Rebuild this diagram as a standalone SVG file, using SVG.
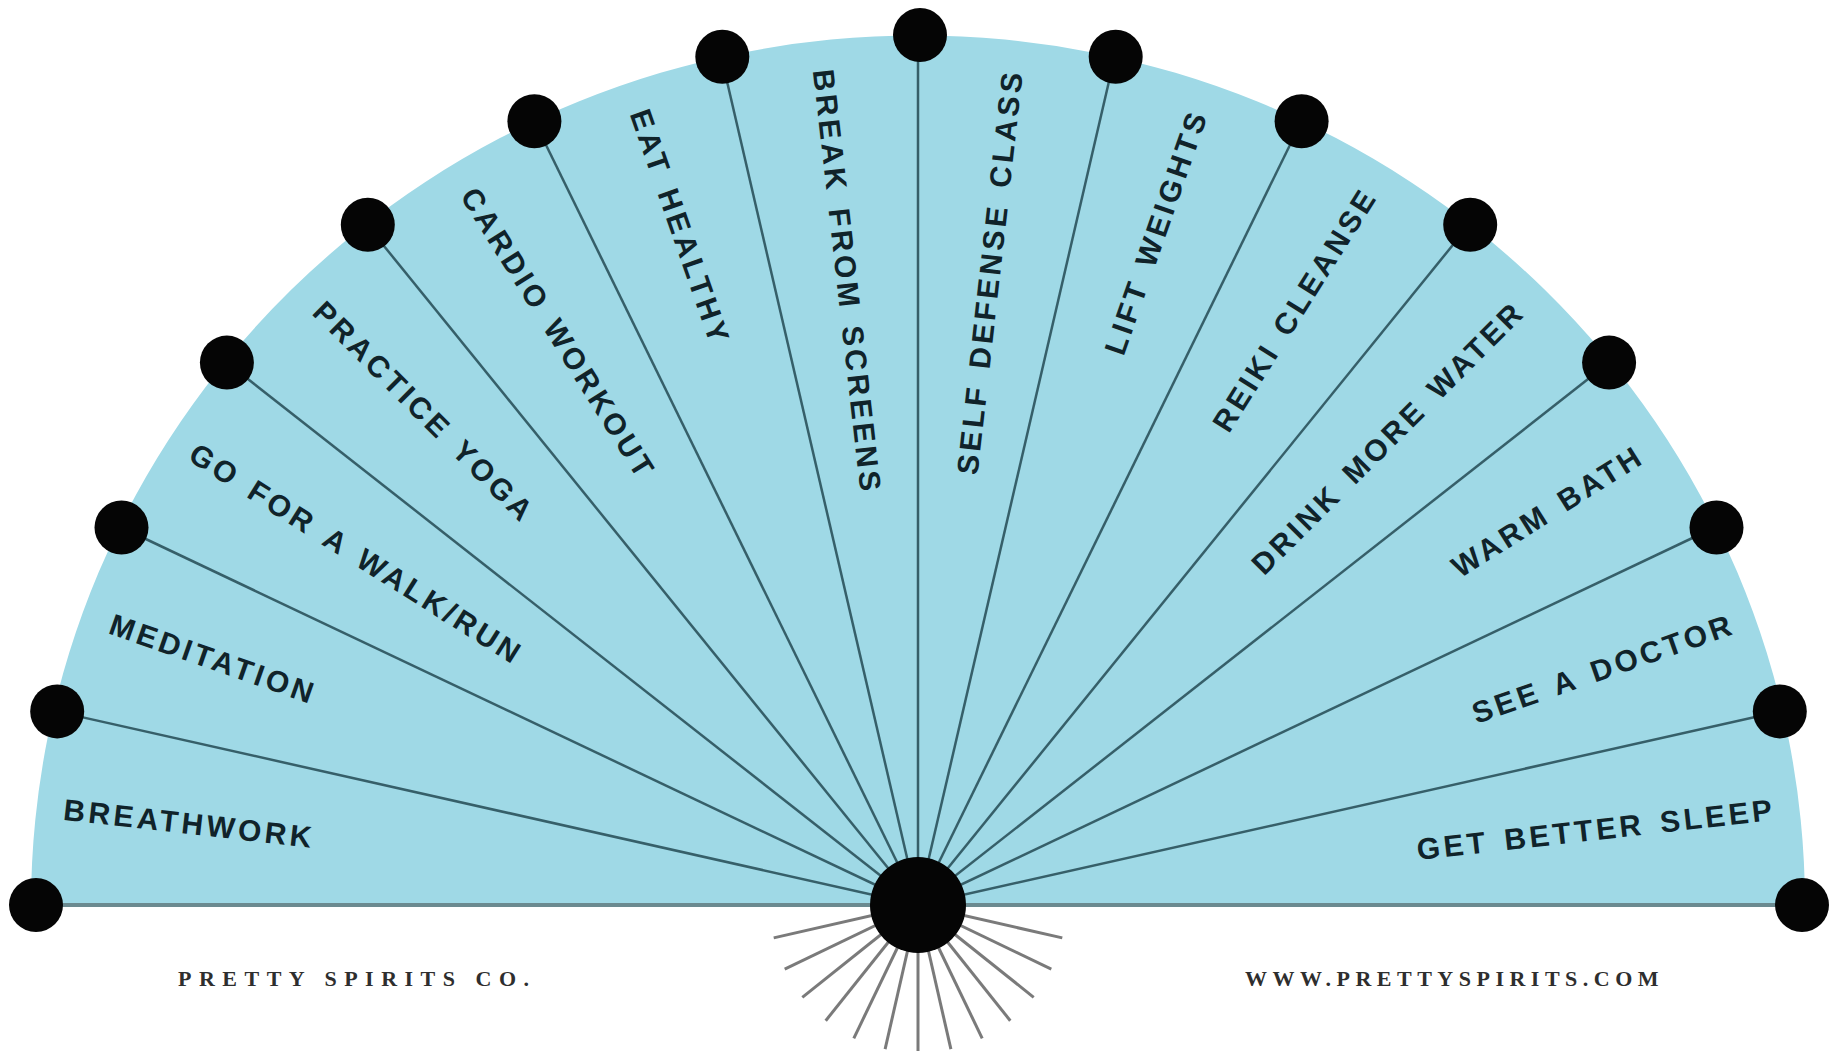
<svg xmlns="http://www.w3.org/2000/svg" width="1837" height="1051" viewBox="0 0 1837 1051">
<style>
.bg{fill:#ffffff}
.fan{fill:#9fd9e6}
.spoke{stroke:#365f69;stroke-width:2.5;fill:none}
.base{stroke:#6b8a90;stroke-width:4;fill:none}
.ray{stroke:#7a7a7a;stroke-width:3;fill:none}
.dot{fill:#050505}
.l{font-family:"Liberation Sans",Arial,sans-serif;font-weight:bold;font-size:30px;letter-spacing:3.5px;word-spacing:4px;fill:#10232a}
.r{font-family:"Liberation Sans",Arial,sans-serif;font-weight:bold;font-size:30px;letter-spacing:3.5px;word-spacing:4px;fill:#10232a;text-anchor:end}
.foot{font-family:"Liberation Serif","Times New Roman",serif;font-weight:bold;font-size:22px;fill:#2e2e2e}
</style>
<rect class="bg" x="0" y="0" width="1837" height="1051"/>
<path id="fan" class="fan" d="M31,905 A887,870 0 0 1 1805,905 Z"/>

<g id="rays">
<line class="ray" x1="918" y1="905" x2="773.7" y2="937.9"/>
<line class="ray" x1="918" y1="905" x2="784.7" y2="969.2"/>
<line class="ray" x1="918" y1="905" x2="802.3" y2="997.3"/>
<line class="ray" x1="918" y1="905" x2="825.7" y2="1020.7"/>
<line class="ray" x1="918" y1="905" x2="853.8" y2="1038.3"/>
<line class="ray" x1="918" y1="905" x2="885.1" y2="1049.2"/>
<line class="ray" x1="918" y1="905" x2="918" y2="1053"/>
<line class="ray" x1="918" y1="905" x2="950.9" y2="1049.2"/>
<line class="ray" x1="918" y1="905" x2="982.2" y2="1038.3"/>
<line class="ray" x1="918" y1="905" x2="1010.3" y2="1020.7"/>
<line class="ray" x1="918" y1="905" x2="1033.7" y2="997.3"/>
<line class="ray" x1="918" y1="905" x2="1051.3" y2="969.2"/>
<line class="ray" x1="918" y1="905" x2="1062.3" y2="937.9"/>
</g>

<g id="connectors">
<line class="base" x1="34" y1="905" x2="1802" y2="905"/>
<line class="spoke" x1="918" y1="905" x2="56.2" y2="711.4"/>
<line class="spoke" x1="918" y1="905" x2="121.5" y2="527.5"/>
<line class="spoke" x1="918" y1="905" x2="226.9" y2="362.6"/>
<line class="spoke" x1="918" y1="905" x2="366.8" y2="224.8"/>
<line class="spoke" x1="918" y1="905" x2="534.4" y2="121.2"/>
<line class="spoke" x1="918" y1="905" x2="721.3" y2="56.8"/>
<line class="spoke" x1="918" y1="905" x2="918" y2="35"/>
<line class="spoke" x1="918" y1="905" x2="1114.7" y2="56.8"/>
<line class="spoke" x1="918" y1="905" x2="1301.6" y2="121.2"/>
<line class="spoke" x1="918" y1="905" x2="1469.2" y2="224.8"/>
<line class="spoke" x1="918" y1="905" x2="1609.1" y2="362.6"/>
<line class="spoke" x1="918" y1="905" x2="1714.5" y2="527.5"/>
<line class="spoke" x1="918" y1="905" x2="1779.8" y2="711.4"/>
</g>

<g id="dots">
<circle id="dot0" class="dot" cx="36" cy="905" r="27"/>
<circle id="dot1" class="dot" cx="57.2" cy="711.4" r="27"/>
<circle id="dot2" class="dot" cx="121.5" cy="527.5" r="27"/>
<circle id="dot3" class="dot" cx="226.9" cy="362.6" r="27"/>
<circle id="dot4" class="dot" cx="367.8" cy="224.8" r="27"/>
<circle id="dot5" class="dot" cx="534.4" cy="121.2" r="27"/>
<circle id="dot6" class="dot" cx="722.3" cy="56.8" r="27"/>
<circle id="dot7" class="dot" cx="920" cy="35" r="27"/>
<circle id="dot8" class="dot" cx="1115.7" cy="56.8" r="27"/>
<circle id="dot9" class="dot" cx="1301.6" cy="121.2" r="27"/>
<circle id="dot10" class="dot" cx="1470.2" cy="224.8" r="27"/>
<circle id="dot11" class="dot" cx="1609.1" cy="362.6" r="27"/>
<circle id="dot12" class="dot" cx="1716.5" cy="527.5" r="27"/>
<circle id="dot13" class="dot" cx="1779.8" cy="711.4" r="27"/>
<circle id="dot14" class="dot" cx="1802" cy="905" r="27"/>
</g>
<g id="hub"><circle class="dot" cx="918" cy="905" r="48"/></g>

<g id="label-breathwork" transform="translate(63.8,808.8) rotate(6.429)"><text class="l" x="0" y="11">BREATHWORK</text></g>
<g id="label-meditation" transform="translate(110.9,622.6) rotate(19.286)"><text class="l" x="0" y="11">MEDITATION</text></g>
<g id="label-walk" transform="translate(192.6,450.3) rotate(32.143)"><text class="l" x="0" y="11">GO FOR A WALK/RUN</text></g>
<g id="label-yoga" transform="translate(318.9,305.9) rotate(45)"><text class="l" x="0" y="11">PRACTICE YOGA</text></g>
<g id="label-cardio" transform="translate(468.9,190.2) rotate(57.857)"><text class="l" x="0" y="11">CARDIO WORKOUT</text></g>
<g id="label-eat" transform="translate(639.8,110.1) rotate(70.714)"><text class="l" x="0" y="11">EAT HEALTHY</text></g>
<g id="label-screens" transform="translate(823.8,69.2) rotate(83.571)"><text class="l" x="0" y="11">BREAK FROM SCREENS</text></g>
<g id="label-selfdefense" transform="translate(1012.2,69.2) rotate(-83.571)"><text class="r" x="0" y="11">SELF DEFENSE CLASS</text></g>
<g id="label-weights" transform="translate(1198.2,110.1) rotate(-70.714)"><text class="r" x="0" y="11">LIFT WEIGHTS</text></g>
<g id="label-reiki" transform="translate(1369.1,190.2) rotate(-57.857)"><text class="r" x="0" y="11">REIKI CLEANSE</text></g>
<g id="label-water" transform="translate(1519.1,305.9) rotate(-45)"><text class="r" x="0" y="11">DRINK MORE WATER</text></g>
<g id="label-bath" transform="translate(1640.4,452.3) rotate(-32.143)"><text class="r" x="0" y="11">WARM BATH</text></g>
<g id="label-doctor" transform="translate(1733.1,622.6) rotate(-19.286)"><text class="r" x="0" y="11">SEE A DOCTOR</text></g>
<g id="label-sleep" transform="translate(1775.2,808.8) rotate(-6.429)"><text class="r" x="0" y="11">GET BETTER SLEEP</text></g>

<text class="foot" x="178" y="986" letter-spacing="7.5">PRETTY SPIRITS CO.</text>
<text class="foot" x="1245" y="986" letter-spacing="5.5">WWW.PRETTYSPIRITS.COM</text>
</svg>
